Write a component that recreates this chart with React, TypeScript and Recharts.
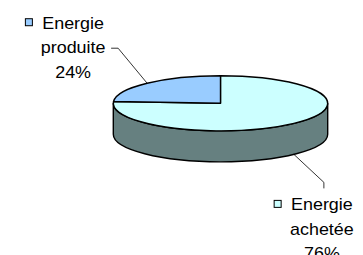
import { PieChart, Pie } from "recharts";

const names = ["Energie achetée", "Energie produite"];
const values = [76, 24];
const topColors = ["#CCFFFF", "#99CCFF"];
const sideColors = ["#668080", "#4D6680"];

const data = names.map((name, i) => ({ name, value: values[i] }));

const SQUASH = 0.257; // tilt of the 3d pie: vertical / horizontal radius
const DEPTH = 31;
const FONT = "'Liberation Sans', Arial, sans-serif";
const FONT_SIZE = 16;
const STRETCH = 1.12; // the original text is drawn a bit wide
const LINE = 24.5;

const rad = (a: number) => (a * Math.PI) / 180;
const onRim = (cx: number, cy: number, r: number, a: number): [number, number] => [
  cx + r * Math.cos(rad(a)),
  cy - r * SQUASH * Math.sin(rad(a)),
];

// side wall, only where the slice faces the viewer (lower half of the ellipse)
const renderSide = (p: any) => {
  const { cx, cy, outerRadius: r, startAngle, endAngle, index } = p;
  const lo = Math.min(startAngle, endAngle);
  const hi = Math.max(startAngle, endAngle);
  const ry = r * SQUASH;
  const paths: string[] = [];
  [[-540, -360], [-180, 0], [180, 360]].forEach(([a, b]) => {
    const s = Math.max(lo, a);
    const e = Math.min(hi, b);
    if (e - s < 0.01) return;
    const [x1, y1] = onRim(cx, cy, r, s);
    const [x2, y2] = onRim(cx, cy, r, e);
    paths.push(
      `M${x1},${y1} A${r},${ry} 0 0 0 ${x2},${y2} L${x2},${y2 + DEPTH} A${r},${ry} 0 0 1 ${x1},${y1 + DEPTH} Z`
    );
  });
  return (
    <g key={`side-${index}`}>
      {paths.map((d, i) => (
        <path key={i} d={d} fill={sideColors[index]} stroke="#000" strokeWidth={1.4} strokeLinejoin="round" />
      ))}
    </g>
  );
};

const renderTop = (p: any) => {
  const { cx, cy, outerRadius: r, startAngle, endAngle, index } = p;
  const ry = r * SQUASH;
  const [x1, y1] = onRim(cx, cy, r, startAngle);
  const [x2, y2] = onRim(cx, cy, r, endAngle);
  const large = Math.abs(endAngle - startAngle) > 180 ? 1 : 0;
  const sweep = startAngle > endAngle ? 1 : 0;
  return (
    <path
      key={`top-${index}`}
      d={`M${cx},${cy} L${x1},${y1} A${r},${ry} 0 ${large} ${sweep} ${x2},${y2} Z`}
      fill={topColors[index]}
      stroke="#000"
      strokeWidth={1.4}
      strokeLinejoin="round"
    />
  );
};

const renderText = (p: any) => {
  const { cx, cy, outerRadius, midAngle, percent, name, index } = p;
  const [ax, ay] = onRim(cx, cy, outerRadius, midAngle);
  const front = Math.sin(rad(midAngle)) < 0;
  const words = name.split(" ");
  const lines = [words[0], words.slice(1).join(" "), `${Math.round(percent * 100)}%`];

  let line: string;
  let tx: number;
  let base: number;
  if (front) {
    const ex = ax + 30;
    const ey = ay + DEPTH + 28;
    line = `M${ax},${ay + DEPTH} L${ex},${ey} L${ex},${ey + 6}`;
    tx = ex - 2;
    base = ey + 6 + 22;
  } else {
    const ex = ax - 29;
    const ey = ay - 35;
    line = `M${ax},${ay} L${ex},${ey} L${ex - 7},${ey}`;
    tx = ex - 7 - 38;
    base = ey + 5 - LINE;
  }
  const firstWidth = words[0].length * FONT_SIZE * 0.49 * STRETCH;
  const keyX = tx - firstWidth / 2 - 17;

  return (
    <g key={`lbl-${index}`}>
      <path d={line} fill="none" stroke="#000" strokeWidth={0.8} />
      <rect x={keyX} y={base - 10} width={7} height={7} fill={topColors[index]} stroke="#000" strokeWidth={1} />
      {lines.map((t, i) => (
        <text
          key={i}
          transform={`translate(${tx},${base + i * LINE}) scale(${STRETCH},1)`}
          textAnchor="middle"
          fontFamily={FONT}
          fontSize={FONT_SIZE}
          fill="#000"
        >
          {t}
        </text>
      ))}
    </g>
  );
};

const pieProps = {
  data,
  dataKey: "value",
  nameKey: "name",
  cx: 215.5,
  cy: 98.3,
  outerRadius: 107.2,
  startAngle: 90,
  endAngle: -270,
  fill: "none",
  stroke: "none",
  labelLine: false,
  isAnimationActive: false,
};

export default function App() {
  return (
    <div style={{ position: "absolute", left: 0, top: 0, background: "#fff" }}>
      <PieChart width={363} height={255}>
        <Pie {...pieProps} label={renderSide} />
        <Pie {...pieProps} label={renderTop} />
        <Pie {...pieProps} label={renderText} />
      </PieChart>
    </div>
  );
}
